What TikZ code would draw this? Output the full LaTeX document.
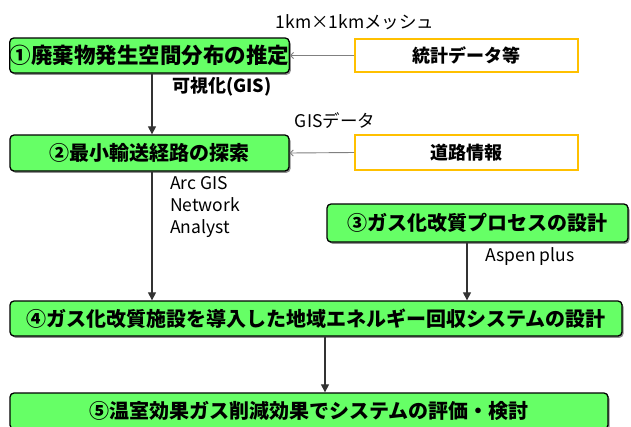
\documentclass[tikz,border=0pt]{standalone}
\usepackage{fontspec}
\setmainfont{Noto Sans CJK JP}
\usetikzlibrary{arrows.meta,shadows}
\definecolor{boxgreen}{HTML}{66FF66}
\definecolor{boxorange}{HTML}{FFC000}
\definecolor{lineg}{HTML}{333333}
\tikzset{
  stepbox/.style={draw=black, line width=1.3pt, fill=boxgreen, rounded corners=4pt,
    inner sep=0pt, font=\bfseries\fontsize{20}{22}\selectfont,
    drop shadow={shadow xshift=1.5pt, shadow yshift=-1.8pt, fill=black!55, opacity=0.8}},
  databox/.style={draw=boxorange, line width=1.6pt, fill=white, inner sep=0pt,
    font=\bfseries\fontsize{18}{20}\selectfont},
  lbl/.style={inner sep=0pt, font=\fontsize{17.5}{22}\selectfont},
  arr/.style={draw=lineg, line width=1.1pt, -{Triangle[length=8pt,width=8pt]}},
  garr/.style={draw=black!50, line width=0.9pt, -{Straight Barb[length=3pt,width=6pt]}},
}
\begin{document}
\begin{tikzpicture}[x=1pt,y=-1pt]
\useasboundingbox (0,0) rectangle (631,426);
\clip (0,0) rectangle (631,426);
\fill[white] (0,0) rectangle (631,426);
% boxes
\node[stepbox, minimum width=279pt, minimum height=35pt, font=\bfseries\fontsize{21.5}{22}\selectfont] (b1) at (149.5,55.5) {①廃棄物発生空間分布の推定};
\node[databox, minimum width=223pt, minimum height=33pt] (st) at (466.5,55.5) {統計データ等};
\node[stepbox, minimum width=279pt, minimum height=36pt] (b2) at (149.5,153) {②最小輸送経路の探索};
\node[databox, minimum width=223pt, minimum height=35pt] (rd) at (466.5,152.5) {道路情報};
\node[stepbox, minimum width=301pt, minimum height=38pt] (b3) at (477.5,223) {③ガス化改質プロセスの設計};
\node[stepbox, minimum width=612pt, minimum height=35pt] (b4) at (316,318.5) {④ガス化改質施設を導入した地域エネルギー回収システムの設計};
\node[stepbox, minimum width=598pt, minimum height=36pt] (b5) at (309,411) {⑤温室効果ガス削減効果でシステムの評価・検討};
% labels
\node[lbl] (l1) at (355,22) {1km×1kmメッシュ};
\node[lbl, anchor=west, font=\bfseries\fontsize{18}{22}\selectfont] (l2) at (172,87) {可視化(GIS)};
\node[lbl] (l3) at (335,121) {GISデータ};
\node[lbl, anchor=west, align=left] (l4) at (170,207) {Arc GIS\\Network\\Analyst};
\node[lbl, anchor=west] (l5) at (485,257) {Aspen plus};
% connector x positions
\coordinate (xa) at (152,0);
\coordinate (xb) at (467,0);
\coordinate (xc) at (325,0);
% connectors
\draw[arr] (b1.south -| xa) -- (b2.north -| xa);
\draw[arr] (b2.south -| xa) -- (b4.north -| xa);
\draw[arr] (b3.south -| xb) -- (b4.north -| xb);
\draw[arr] (b4.south -| xc) -- (b5.north -| xc);
\draw[garr] (st.west) -- (b1.east);
\draw[garr] (rd.west) -- (b2.east);
\end{tikzpicture}
\end{document}
